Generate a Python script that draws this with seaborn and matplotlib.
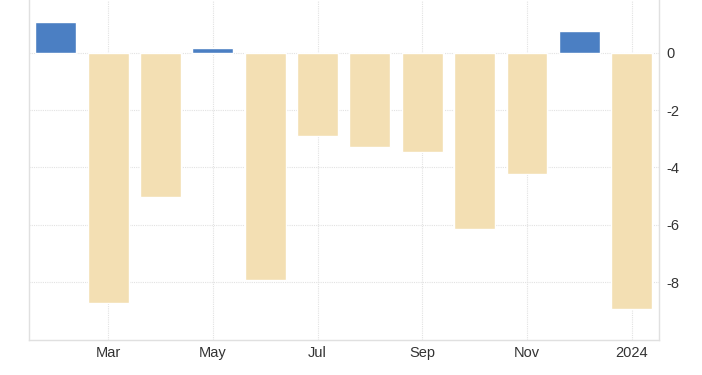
import numpy as np
import pandas as pd
import matplotlib
matplotlib.use("Agg")
import matplotlib.pyplot as plt
import seaborn as sns

# monthly values, Feb 2023 .. Jan 2024
months = ["Feb", "Mar", "Apr", "May", "Jun", "Jul", "Aug", "Sep", "Oct", "Nov", "Dec", "Jan"]
values = [1.07, -8.74, -5.02, 0.17, -7.93, -2.91, -3.30, -3.45, -6.14, -4.22, 0.75, -8.95]
tick_idx = [1, 3, 5, 7, 9, 11]
tick_labels = ["Mar", "May", "Jul", "Sep", "Nov", "2024"]
y_ticks = [0, -2, -4, -6, -8]

df = pd.DataFrame({"month": months, "value": values})
df["sign"] = np.where(df["value"] >= 0, "pos", "neg")

sns.set_style("white")
plt.rcParams['font.family'] = ['Liberation Sans', 'DejaVu Sans']

fig = plt.figure(figsize=(7.02, 3.75), dpi=100)
ax = fig.add_axes([29 / 702, 35 / 375, 630 / 702, 340 / 375])

sns.barplot(data=df, x="month", y="value", hue="sign", order=months,
            palette={"pos": "#4b7fc3", "neg": "#f3dfb3"},
            dodge=False, width=0.78, legend=False, ax=ax, saturation=1)

ax.set_xlim(-0.51, 11.52)
ax.set_ylim(-10.02, 1.84)
ax.set_xticks(tick_idx)
ax.set_xticklabels(tick_labels)
ax.set_yticks(y_ticks)
ax.set_yticklabels([str(v) for v in y_ticks])
ax.yaxis.tick_right()
ax.tick_params(axis="both", length=0, labelsize=10.5, labelcolor="#333333")
ax.tick_params(axis="x", pad=4)
ax.tick_params(axis="y", pad=5)
ax.set_xlabel("")
ax.set_ylabel("")

ax.grid(True, color="#e2e2e2", linestyle=(0, (1, 1)), linewidth=0.8)
ax.set_axisbelow(True)
for s in ["left", "bottom", "right"]:
    ax.spines[s].set_visible(True)
    ax.spines[s].set_color("#e0e0e0")
    ax.spines[s].set_linewidth(1)
ax.spines["top"].set_visible(False)

plt.savefig("out.png", dpi=100)
plt.close()
